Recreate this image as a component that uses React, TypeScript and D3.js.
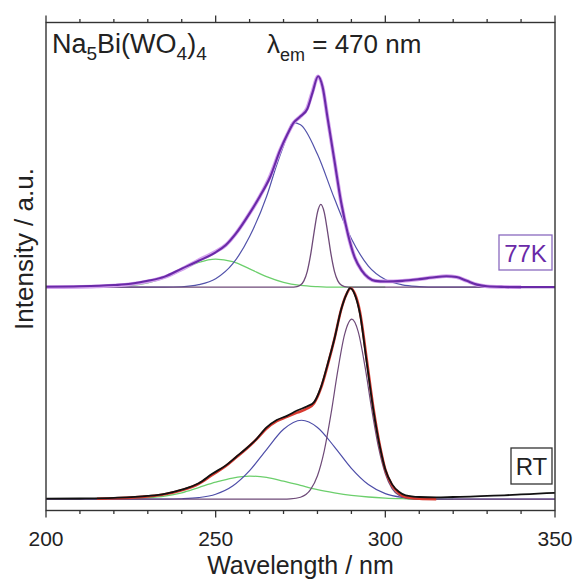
import React from "react";
import * as d3 from "d3";

type P = [number, number];

// ---- data (wavelength nm, intensity a.u. relative to each baseline) ----
const OFFSET_77K = 1.005;

const k77Data: P[] = [
  [200, 0.002], [210, 0.004], [220, 0.01], [225, 0.016], [230, 0.03], [235, 0.05],
  [240, 0.088], [245, 0.125], [250, 0.165], [253, 0.2], [256, 0.255], [260, 0.35],
  [263, 0.43], [266, 0.52], [269, 0.65], [271, 0.72], [273, 0.78], [275, 0.81],
  [277, 0.845], [278.5, 0.92], [280.2, 1.0], [281.5, 0.95], [283, 0.8], [285, 0.6],
  [287, 0.4], [289, 0.25], [291, 0.14], [293, 0.08], [295, 0.045], [297, 0.03],
  [300, 0.027], [305, 0.03], [310, 0.038], [314, 0.046], [318, 0.052], [321, 0.048],
  [324, 0.03], [327, 0.012], [330, 0.004], [335, 0.001], [340, 0], [350, 0],
];
const k77Fit: P[] = [
  [200, 0.0], [215, 0.004], [225, 0.014], [230, 0.027], [235, 0.048], [240, 0.085],
  [245, 0.128], [250, 0.168], [253, 0.2], [256, 0.255], [260, 0.35], [263, 0.43],
  [266, 0.525], [269, 0.65], [271, 0.72], [273, 0.78], [275, 0.81], [277, 0.85],
  [278.5, 0.925], [280.2, 1.0], [281.5, 0.95], [283, 0.8], [285, 0.6], [287, 0.4],
  [289, 0.25], [291, 0.14], [293, 0.08], [295, 0.045], [297, 0.03], [300, 0.027],
  [305, 0.03], [310, 0.038], [314, 0.046], [318, 0.052], [321, 0.048], [324, 0.03],
  [327, 0.012], [330, 0.004], [335, 0.001], [340, 0],
];
const k77Blue: P[] = [
  [200, 0], [235, 0], [240, 0.002], [245, 0.012], [250, 0.04], [255, 0.11],
  [260, 0.24], [265, 0.43], [268, 0.58], [270, 0.67], [272.8, 0.78], [275, 0.77],
  [280, 0.63], [285, 0.42], [290, 0.23], [295, 0.1], [300, 0.036], [305, 0.011],
  [310, 0.003], [315, 0], [350, 0],
];
const k77Green: P[] = [
  [200, 0], [215, 0], [220, 0.002], [225, 0.007], [230, 0.02], [235, 0.045],
  [240, 0.081], [245, 0.117], [250, 0.133], [255, 0.121], [260, 0.087], [265, 0.05],
  [270, 0.023], [275, 0.0085], [280, 0.0025], [285, 0], [300, 0],
];
const k77Narrow: P[] = [
  [200, 0], [272, 0], [274, 0.003], [275, 0.01], [276, 0.03], [277, 0.075],
  [278, 0.155], [279, 0.26], [280, 0.355], [281, 0.393], [282, 0.355], [283, 0.26],
  [284, 0.155], [285, 0.075], [286, 0.03], [287, 0.01], [288, 0.003], [290, 0], [350, 0],
];

const rtData: P[] = [
  [200, 0.002], [210, 0.003], [220, 0.006], [230, 0.015], [235, 0.025], [240, 0.045],
  [245, 0.075], [249, 0.12], [253, 0.16], [256, 0.2], [259, 0.24], [262, 0.285],
  [265, 0.34], [268, 0.375], [271, 0.395], [274, 0.42], [277, 0.44], [279, 0.46],
  [281, 0.53], [283, 0.64], [285, 0.76], [287, 0.9], [288.5, 0.97], [289.6, 1.0],
  [291, 0.97], [292.5, 0.88], [294.5, 0.65], [296.5, 0.42], [298.5, 0.24], [300, 0.14],
  [302, 0.07], [304, 0.035], [306, 0.018], [310, 0.01], [315, 0.008], [320, 0.01],
  [325, 0.012], [330, 0.015], [335, 0.018], [340, 0.022], [345, 0.026], [350, 0.03],
];
const rtFit: P[] = [
  [215, 0.002], [220, 0.004], [230, 0.013], [235, 0.023], [240, 0.042], [245, 0.072],
  [249, 0.115], [253, 0.157], [256, 0.197], [259, 0.238], [262, 0.283], [265, 0.335],
  [268, 0.37], [271, 0.39], [274, 0.41], [277, 0.43], [279, 0.455], [281, 0.525],
  [283, 0.635], [285, 0.76], [287, 0.9], [288.5, 0.97], [289.8, 1.0], [291, 0.975],
  [292.5, 0.89], [294.5, 0.665], [296.5, 0.43], [298.5, 0.245], [300, 0.14],
  [302, 0.065], [304, 0.028], [306, 0.01], [310, 0.002], [315, 0],
];
const rtBlue: P[] = [
  [200, 0], [235, 0], [240, 0.0016], [245, 0.007], [250, 0.023], [255, 0.062],
  [260, 0.135], [265, 0.235], [270, 0.331], [275.3, 0.374], [280, 0.34], [285, 0.248],
  [290, 0.146], [295, 0.069], [300, 0.026], [305, 0.008], [310, 0.002], [315, 0], [350, 0],
];
const rtGreen: P[] = [
  [200, 0], [220, 0], [225, 0.002], [230, 0.006], [235, 0.014], [240, 0.03],
  [245, 0.055], [250, 0.08], [255, 0.1], [260, 0.109], [265, 0.103], [270, 0.085],
  [275, 0.065], [280, 0.045], [285, 0.03], [290, 0.018], [295, 0.01], [300, 0.005],
  [305, 0.002], [310, 0], [320, 0],
];
const rtNarrow: P[] = [
  [200, 0], [270, 0], [272, 0.001], [275, 0.009], [278, 0.046], [280, 0.111],
  [282, 0.229], [284, 0.405], [286, 0.61], [288, 0.781], [290.1, 0.853], [292, 0.794],
  [294, 0.629], [296, 0.425], [298, 0.245], [300, 0.12], [302, 0.05], [304, 0.018],
  [306, 0.005], [308, 0.001], [310, 0], [350, 0],
];

const majorTicks = [200, 250, 300, 350];
const minorTicks = d3.range(200, 351, 10);

// ---- layout ----
const W = 575, H = 579;
const L = 46, R = 555, T = 22.5, B = 510.5;
const FONT = "'Liberation Sans', Arial, Helvetica, sans-serif";

export default function App() {
  const x = d3.scaleLinear().domain([200, 350]).range([L, R]);
  const y = d3.scaleLinear().domain([-0.054, 2.26]).range([B, T]);

  const mk = (off: number) =>
    d3.line<P>().x((d) => x(d[0])).y((d) => y(d[1] + off)).curve(d3.curveMonotoneX);
  const l77 = mk(OFFSET_77K);
  const lrt = mk(0);

  return (
    <svg width={W} height={H} style={{ position: "absolute", left: 0, top: 0, background: "#fff" }}>
      <rect x={0} y={0} width={W} height={H} fill="#fff" />
      {/* RT components */}
      <path d={lrt(rtGreen)!} fill="none" stroke="#6ccf6c" strokeWidth={1.3} />
      <path d={lrt(rtBlue)!} fill="none" stroke="#4d4da8" strokeWidth={1.2} />
      <path d={lrt(rtNarrow)!} fill="none" stroke="#6e4a78" strokeWidth={1.2} />
      {/* 77K components */}
      <path d={l77(k77Green)!} fill="none" stroke="#6ccf6c" strokeWidth={1.3} />
      <path d={l77(k77Blue)!} fill="none" stroke="#5252aa" strokeWidth={1.2} />
      <path d={l77(k77Narrow)!} fill="none" stroke="#6e4a78" strokeWidth={1.3} />
      {/* totals */}
      <path d={l77(k77Fit)!} fill="none" stroke="#d4a2ee" strokeWidth={3.8} strokeLinejoin="round" />
      <path d={l77(k77Data)!} fill="none" stroke="#6a2aa8" strokeWidth={2.1} strokeLinejoin="round" />
      <path d={lrt(rtFit)!} fill="none" stroke="#d83a30" strokeWidth={2.6} strokeLinejoin="round" />
      <path d={lrt(rtData)!} fill="none" stroke="#111" strokeWidth={1.8} strokeLinejoin="round" />

      {/* frame */}
      <rect x={L} y={T} width={R - L} height={B - T} fill="none" stroke="#333" strokeWidth={1.4} />
      {minorTicks.map((t) => (
        <g key={"m" + t}>
          <line x1={x(t)} x2={x(t)} y1={B} y2={B + (majorTicks.includes(t) ? 7 : 3.5)} stroke="#333" strokeWidth={1.3} />
          <line x1={x(t)} x2={x(t)} y1={T} y2={T - (majorTicks.includes(t) ? 7 : 3.5)} stroke="#333" strokeWidth={1.3} />
        </g>
      ))}
      {majorTicks.map((t) => (
        <text key={"l" + t} x={x(t)} y={546} textAnchor="middle" fontFamily={FONT} fontSize={21} fill="#222">
          {t}
        </text>
      ))}
      <text x={(L + R) / 2} y={574} textAnchor="middle" fontFamily={FONT} fontSize={25} fill="#222">
        Wavelength / nm
      </text>
      <text transform={`translate(33,249) rotate(-90)`} textAnchor="middle" fontFamily={FONT} fontSize={26} fill="#222">
        Intensity / a.u.
      </text>

      {/* annotations */}
      <text x={52} y={53} fontFamily={FONT} fontSize={27} fill="#222">
        Na<tspan fontSize={19} dy={7}>5</tspan>
        <tspan dy={-7}>Bi(WO</tspan>
        <tspan fontSize={19} dy={7}>4</tspan>
        <tspan dy={-7}>)</tspan>
        <tspan fontSize={19} dy={7}>4</tspan>
      </text>
      <text x={267} y={53} fontFamily={FONT} fontSize={26} fill="#222">
        λ<tspan fontSize={18} dy={8}>em</tspan>
        <tspan dy={-8}> = 470 nm</tspan>
      </text>

      <rect x={499} y={235} width={53} height={35} fill="#fff" stroke="#8a6abf" strokeWidth={1.3} />
      <text x={525.5} y={262} textAnchor="middle" fontFamily={FONT} fontSize={24} fill="#6a2aa8">
        77K
      </text>
      <rect x={511} y={448} width={41} height={36} fill="#fff" stroke="#333" strokeWidth={1.3} />
      <text x={531.5} y={475} textAnchor="middle" fontFamily={FONT} fontSize={24} fill="#222">
        RT
      </text>
    </svg>
  );
}
